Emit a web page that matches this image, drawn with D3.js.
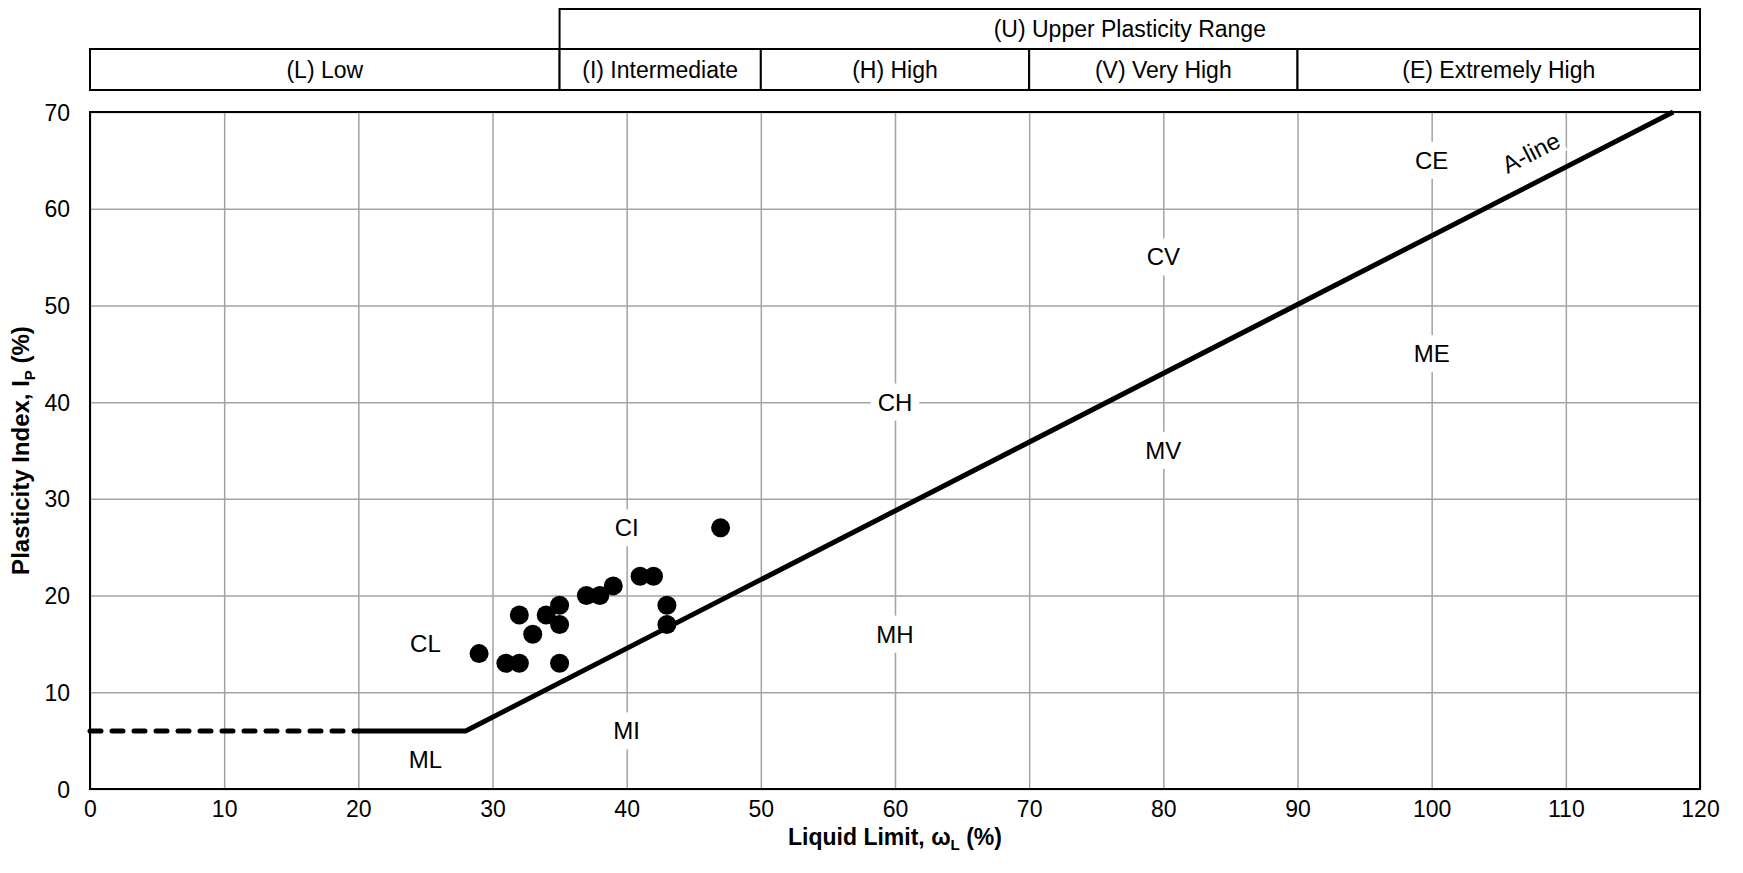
<!DOCTYPE html>
<html>
<head>
<meta charset="utf-8">
<script src="https://cdn.jsdelivr.net/npm/d3@7"></script>
<style>
  body { margin: 0; background: #fff; }
  svg { display: block; font-family: "Liberation Sans", Arial, sans-serif; }
  .grid line { stroke: #a3a3a3; stroke-width: 1.5; }
  .grid path { display: none; }
  .axis path { display: none; }
  .axis text { font-size: 23px; fill: #000; font-family: "Liberation Sans", Arial, sans-serif; }
</style>
</head>
<body>
<svg width="1743" height="873"></svg>
<script>
// test results (liquid limit, plasticity index)
var liquidLimit = [29, 31, 32, 32, 33, 34, 35, 35, 35, 37, 38, 39, 41, 42, 43, 43, 47];
var plasticityIndex = [14, 13, 13, 18, 16, 18, 19, 17, 13, 20, 20, 21, 22, 22, 19, 17, 27];

// A-line (solid) and its dashed extension
var aLineLL = [20, 28, 118];
var aLinePI = [6, 6, 70];
var dashLL = [0, 20];
var dashPI = [6, 6];

// zone names inside the chart
var zoneNames = ["CL", "ML", "CI", "MI", "CH", "MH", "CV", "MV", "CE", "ME"];
var zoneLL = [25, 25, 40, 40, 60, 60, 80, 80, 100, 100];
var zonePI = [15, 3, 27, 6, 40, 16, 55, 35, 65, 45];

// plasticity range header
var rangeNames = ["(L) Low", "(I) Intermediate", "(H) High", "(V) Very High", "(E) Extremely High"];
var rangeBounds = [0, 35, 50, 70, 90, 120];
var upperName = "(U) Upper Plasticity Range";

var xTicks = [0, 10, 20, 30, 40, 50, 60, 70, 80, 90, 100, 110, 120];
var yTicks = [0, 10, 20, 30, 40, 50, 60, 70];

var svg = d3.select("svg"),
    margin = { top: 112, right: 43, bottom: 84, left: 90 },
    width = +svg.attr("width") - margin.left - margin.right,
    height = +svg.attr("height") - margin.top - margin.bottom;

var x = d3.scaleLinear().domain([0, 120]).range([0, width]);
var y = d3.scaleLinear().domain([0, 70]).range([height, 0]);

var g = svg.append("g").attr("transform", "translate(" + margin.left + "," + margin.top + ")");

// gridlines
g.append("g").attr("class", "grid")
  .attr("transform", "translate(0," + height + ")")
  .call(d3.axisBottom(x).tickValues(xTicks).tickSize(-height).tickFormat(""));
g.append("g").attr("class", "grid")
  .call(d3.axisLeft(y).tickValues(yTicks).tickSize(-width).tickFormat(""));

// axes
g.append("g").attr("class", "axis")
  .attr("transform", "translate(0," + height + ")")
  .call(d3.axisBottom(x).tickValues(xTicks).tickSize(0).tickPadding(12));
g.append("g").attr("class", "axis")
  .call(d3.axisLeft(y).tickValues(yTicks).tickSize(0).tickPadding(20))
  .selectAll("text").attr("dy", "0.35em");

// zone labels with white backing
zoneNames.forEach(function (name, i) {
  var t = g.append("text")
    .attr("x", x(zoneLL[i])).attr("y", y(zonePI[i]))
    .attr("text-anchor", "middle").attr("dy", "0.35em")
    .style("font-size", "24px")
    .text(name);
  var b = t.node().getBBox();
  g.insert("rect", function () { return t.node(); })
    .attr("x", b.x - 7).attr("y", b.y - 5)
    .attr("width", b.width + 14).attr("height", b.height + 10)
    .attr("fill", "#fff");
});

// A-line label
var lblLL = 107.4, lblPI = 65.8;
var ang = Math.atan2(y(aLinePI[2]) - y(aLinePI[1]), x(aLineLL[2]) - x(aLineLL[1])) * 180 / Math.PI;
var lab = g.append("g")
  .attr("transform", "translate(" + x(lblLL) + "," + y(lblPI) + ") rotate(" + ang + ")");
var lt = lab.append("text").attr("text-anchor", "middle").attr("dy", "0.35em")
  .style("font-size", "24px").text("A-line");
var lb = lt.node().getBBox();
lab.insert("rect", "text")
  .attr("x", lb.x - 3).attr("y", lb.y - 2)
  .attr("width", lb.width + 6).attr("height", lb.height + 3)
  .attr("fill", "#fff");

// A-line
var line = d3.line().x(function (d) { return x(d[0]); }).y(function (d) { return y(d[1]); });
g.append("path")
  .datum(aLineLL.map(function (v, i) { return [v, aLinePI[i]]; }))
  .attr("d", line).attr("fill", "none").attr("stroke", "#000").attr("stroke-width", 5);
g.append("path")
  .datum(dashLL.map(function (v, i) { return [v, dashPI[i]]; }))
  .attr("d", line).attr("fill", "none").attr("stroke", "#000")
  .attr("stroke-width", 5).attr("stroke-linecap", "round").attr("stroke-dasharray", "11,11");

// points
g.selectAll(".pt")
  .data(liquidLimit.map(function (v, i) { return [v, plasticityIndex[i]]; }))
  .enter().append("circle").attr("class", "pt")
  .attr("cx", function (d) { return x(d[0]); })
  .attr("cy", function (d) { return y(d[1]); })
  .attr("r", 9.5).attr("fill", "#000");

// plot frame
g.append("rect").attr("width", width).attr("height", height)
  .attr("fill", "none").attr("stroke", "#000").attr("stroke-width", 2);

// header boxes
var hTop = 9 - margin.top, hMid = 49 - margin.top, hBot = 90 - margin.top;
g.append("rect")
  .attr("x", x(35)).attr("y", hTop)
  .attr("width", x(120) - x(35)).attr("height", hMid - hTop)
  .attr("fill", "#fff").attr("stroke", "#000").attr("stroke-width", 2);
g.append("text")
  .attr("x", (x(35) + x(120)) / 2).attr("y", (hTop + hMid) / 2)
  .attr("text-anchor", "middle").attr("dy", "0.35em")
  .style("font-size", "23px").text(upperName);

rangeNames.forEach(function (name, i) {
  var x0 = x(rangeBounds[i]), x1 = x(rangeBounds[i + 1]);
  g.append("rect")
    .attr("x", x0).attr("y", hMid)
    .attr("width", x1 - x0).attr("height", hBot - hMid)
    .attr("fill", "#fff").attr("stroke", "#000").attr("stroke-width", 2);
  g.append("text")
    .attr("x", (x0 + x1) / 2).attr("y", (hMid + hBot) / 2)
    .attr("text-anchor", "middle").attr("dy", "0.35em")
    .style("font-size", "23px").text(name);
});

// axis titles
var xt = svg.append("text")
  .attr("x", margin.left + width / 2).attr("y", 845)
  .attr("text-anchor", "middle")
  .style("font-size", "23px").style("font-weight", "bold");
xt.append("tspan").text("Liquid Limit, \u03c9");
xt.append("tspan").attr("dy", 5).style("font-size", "15px").text("L");
xt.append("tspan").attr("dy", -5).text(" (%)");

var yt = svg.append("text")
  .attr("transform", "translate(29," + (margin.top + height / 2) + ") rotate(-90)")
  .attr("text-anchor", "middle")
  .style("font-size", "24px").style("font-weight", "bold");
yt.append("tspan").text("Plasticity Index, I");
yt.append("tspan").attr("dy", 6).style("font-size", "15px").text("P");
yt.append("tspan").attr("dy", -6).text(" (%)");
</script>
</body>
</html>
